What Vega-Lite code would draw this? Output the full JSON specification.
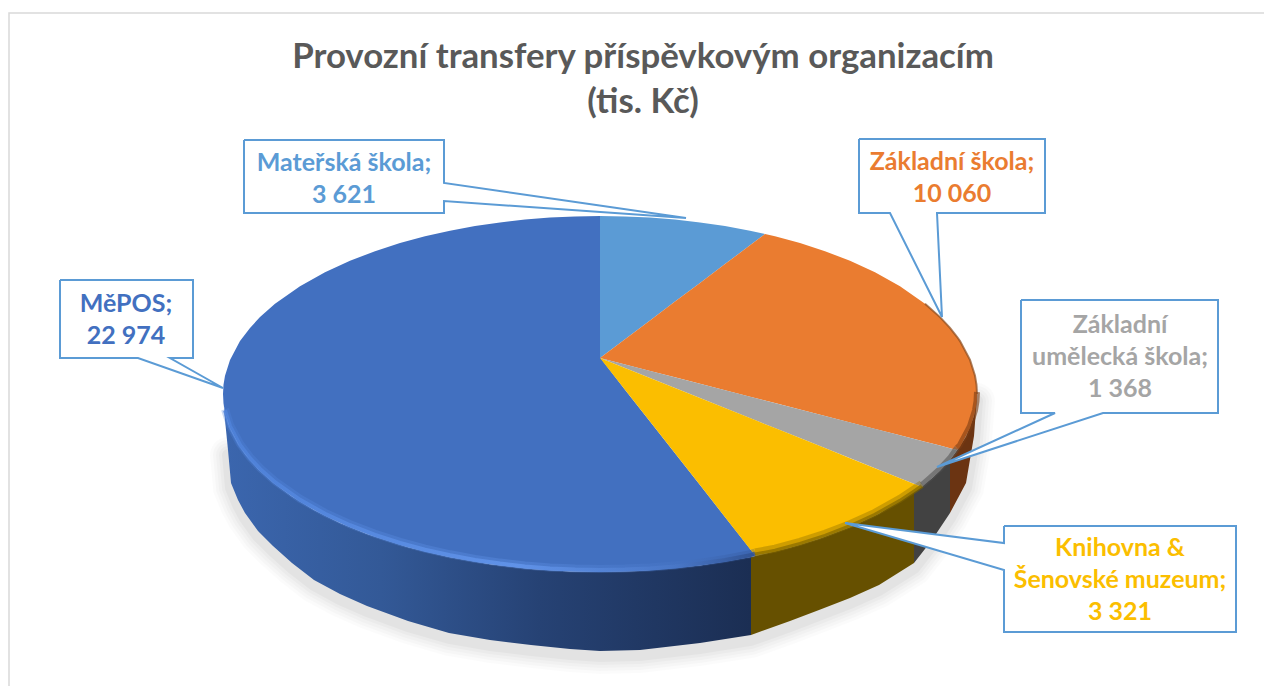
{"$schema":"https://vega.github.io/schema/vega-lite/v6.json","width":1264,"height":686,"padding":0,"autosize":"none","background":"white","config":{"view":{"stroke":null}},
"title":{"text":["Provozní transfery příspěvkovým organizacím","(tis. Kč)"],"font":"Lato","fontWeight":"bold","fontSize":34.8,"color":"#595959","lineHeight":45,"anchor":"middle","frame":"group","dx":11,"dy":121,"offset":0},
"datasets":{
"top":[
{"slice":"MěPOS","x":223,"y":394,"y2":394},{"slice":"MěPOS","x":223.5,"y":384.8,"y2":403.2},{"slice":"MěPOS","x":225,"y":375.7,"y2":412.3},{"slice":"MěPOS","x":230,"y":359.9,"y2":428.1},{"slice":"MěPOS","x":240,"y":341.1,"y2":446.9},{"slice":"MěPOS","x":250,"y":327.9,"y2":460.1},{"slice":"MěPOS","x":260,"y":317.1,"y2":470.9},{"slice":"MěPOS","x":275,"y":303.8,"y2":484.2},{"slice":"MěPOS","x":300,"y":286.2,"y2":501.8},{"slice":"MěPOS","x":325,"y":272.2,"y2":515.8},{"slice":"MěPOS","x":350,"y":260.8,"y2":527.2},{"slice":"MěPOS","x":375,"y":251.2,"y2":536.8},{"slice":"MěPOS","x":400,"y":243.1,"y2":544.9},{"slice":"MěPOS","x":425,"y":236.3,"y2":551.7},{"slice":"MěPOS","x":450,"y":230.7,"y2":557.3},{"slice":"MěPOS","x":475,"y":226.1,"y2":561.9},{"slice":"MěPOS","x":500,"y":222.4,"y2":565.6},{"slice":"MěPOS","x":525,"y":219.6,"y2":568.4},{"slice":"MěPOS","x":550,"y":217.6,"y2":570.4},{"slice":"MěPOS","x":575,"y":216.4,"y2":571.6},{"slice":"MěPOS","x":600,"y":216,"y2":572},{"slice":"MěPOS","x":600.5,"y":358,"y2":572},{"slice":"MěPOS","x":625,"y":389.8,"y2":571.6},{"slice":"MěPOS","x":650,"y":421.6,"y2":570.4},{"slice":"MěPOS","x":675,"y":453.3,"y2":568.4},{"slice":"MěPOS","x":700,"y":485.1,"y2":565.6},{"slice":"MěPOS","x":725,"y":516.9,"y2":561.9},{"slice":"MěPOS","x":750,"y":548.7,"y2":557.3},{"slice":"MěPOS","x":755,"y":555.5,"y2":555.5},
{"slice":"Mateřská škola","x":600,"y":216,"y2":358},{"slice":"Mateřská škola","x":625,"y":216.4,"y2":339.2},{"slice":"Mateřská škola","x":650,"y":217.6,"y2":320.4},{"slice":"Mateřská škola","x":675,"y":219.6,"y2":301.6},{"slice":"Mateřská škola","x":700,"y":222.4,"y2":282.9},{"slice":"Mateřská škola","x":725,"y":226.1,"y2":264.1},{"slice":"Mateřská škola","x":750,"y":230.7,"y2":245.3},{"slice":"Mateřská škola","x":765,"y":234,"y2":234},
{"slice":"Základní škola","x":600,"y":358,"y2":358},{"slice":"Základní škola","x":625,"y":339.2,"y2":364.4},{"slice":"Základní škola","x":650,"y":320.4,"y2":370.9},{"slice":"Základní škola","x":675,"y":301.6,"y2":377.3},{"slice":"Základní škola","x":700,"y":282.9,"y2":383.8},{"slice":"Základní škola","x":725,"y":264.1,"y2":390.2},{"slice":"Základní škola","x":750,"y":245.3,"y2":396.7},{"slice":"Základní škola","x":765,"y":233.9,"y2":400.5},{"slice":"Základní škola","x":775,"y":236.3,"y2":403.1},{"slice":"Základní škola","x":800,"y":243.1,"y2":409.5},{"slice":"Základní škola","x":825,"y":251.2,"y2":416},{"slice":"Základní škola","x":850,"y":260.8,"y2":422.4},{"slice":"Základní škola","x":875,"y":272.2,"y2":428.9},{"slice":"Základní škola","x":900,"y":286.2,"y2":435.3},{"slice":"Základní škola","x":925,"y":303.8,"y2":441.8},{"slice":"Základní škola","x":940,"y":317.1,"y2":445.6},{"slice":"Základní škola","x":950,"y":327.9,"y2":448.2},{"slice":"Základní škola","x":957,"y":336.8,"y2":450},{"slice":"Základní škola","x":960,"y":341.1,"y2":447},{"slice":"Základní škola","x":970,"y":359.9,"y2":428.1},{"slice":"Základní škola","x":975,"y":375.7,"y2":412.3},{"slice":"Základní škola","x":976.5,"y":384.8,"y2":403.2},{"slice":"Základní škola","x":977,"y":394,"y2":394},
{"slice":"Základní umělecká škola","x":600,"y":358,"y2":358},{"slice":"Základní umělecká škola","x":700,"y":383.8,"y2":398.1},{"slice":"Základní umělecká škola","x":800,"y":409.5,"y2":438.1},{"slice":"Základní umělecká škola","x":900,"y":435.3,"y2":478.2},{"slice":"Základní umělecká škola","x":922,"y":441,"y2":487},{"slice":"Základní umělecká škola","x":930,"y":443.1,"y2":480},{"slice":"Základní umělecká škola","x":940,"y":445.6,"y2":470.9},{"slice":"Základní umělecká škola","x":950,"y":448.2,"y2":460.1},{"slice":"Základní umělecká škola","x":957,"y":450,"y2":450},
{"slice":"Knihovna & Šenovské muzeum","x":600,"y":358,"y2":358},{"slice":"Knihovna & Šenovské muzeum","x":650,"y":378,"y2":421.6},{"slice":"Knihovna & Šenovské muzeum","x":700,"y":398.1,"y2":485.1},{"slice":"Knihovna & Šenovské muzeum","x":755,"y":420.1,"y2":555.5},{"slice":"Knihovna & Šenovské muzeum","x":775,"y":428.1,"y2":551.7},{"slice":"Knihovna & Šenovské muzeum","x":800,"y":438.1,"y2":544.9},{"slice":"Knihovna & Šenovské muzeum","x":825,"y":448.1,"y2":536.8},{"slice":"Knihovna & Šenovské muzeum","x":850,"y":458.2,"y2":527.2},{"slice":"Knihovna & Šenovské muzeum","x":875,"y":468.2,"y2":515.8},{"slice":"Knihovna & Šenovské muzeum","x":900,"y":478.2,"y2":501.8},{"slice":"Knihovna & Šenovské muzeum","x":915,"y":484.2,"y2":491.8},{"slice":"Knihovna & Šenovské muzeum","x":922,"y":487,"y2":487}
],
"wall":[
{"slice":"MěPOS","x":223,"y":394,"y2":394},{"slice":"MěPOS","x":224,"y":407,"y2":408},{"slice":"MěPOS","x":225,"y":412,"y2":420},{"slice":"MěPOS","x":228,"y":423,"y2":450},{"slice":"MěPOS","x":231,"y":430.5,"y2":483},{"slice":"MěPOS","x":238,"y":443.7,"y2":500},{"slice":"MěPOS","x":245,"y":453.9,"y2":513},{"slice":"MěPOS","x":258,"y":468.9,"y2":531},{"slice":"MěPOS","x":273,"y":482.6,"y2":546},{"slice":"MěPOS","x":292,"y":496.6,"y2":563},{"slice":"MěPOS","x":314,"y":510,"y2":580},{"slice":"MěPOS","x":340,"y":522.9,"y2":594},{"slice":"MěPOS","x":367,"y":533.9,"y2":606},{"slice":"MěPOS","x":408,"y":547.2,"y2":621},{"slice":"MěPOS","x":449,"y":557.1,"y2":633},{"slice":"MěPOS","x":490,"y":564.3,"y2":640},{"slice":"MěPOS","x":531,"y":569,"y2":645},{"slice":"MěPOS","x":570,"y":571.4,"y2":649},{"slice":"MěPOS","x":600,"y":572,"y2":651},{"slice":"MěPOS","x":640,"y":571,"y2":650},{"slice":"MěPOS","x":700,"y":565.6,"y2":643},{"slice":"MěPOS","x":751,"y":557,"y2":635},
{"slice":"Knihovna & Šenovské muzeum","x":751,"y":557,"y2":635},{"slice":"Knihovna & Šenovské muzeum","x":790,"y":547.7,"y2":621},{"slice":"Knihovna & Šenovské muzeum","x":819,"y":538.9,"y2":610},{"slice":"Knihovna & Šenovské muzeum","x":850,"y":527.2,"y2":598},{"slice":"Knihovna & Šenovské muzeum","x":879,"y":513.7,"y2":585},{"slice":"Knihovna & Šenovské muzeum","x":914,"y":491,"y2":563},
{"slice":"Základní umělecká škola","x":914,"y":491,"y2":563},{"slice":"Základní umělecká škola","x":932,"y":478.3,"y2":540},{"slice":"Základní umělecká škola","x":950,"y":460,"y2":513},
{"slice":"Základní škola","x":950,"y":460,"y2":513},{"slice":"Základní škola","x":958,"y":449,"y2":498},{"slice":"Základní škola","x":966,"y":436.7,"y2":483},{"slice":"Základní škola","x":974,"y":416,"y2":436},{"slice":"Základní škola","x":977,"y":394,"y2":396}
],
"callouts":[
{"slice":"Mateřská škola","i":0,"x":244,"y":140},{"slice":"Mateřská škola","i":1,"x":444,"y":140},{"slice":"Mateřská škola","i":2,"x":444,"y":183},{"slice":"Mateřská škola","i":3,"x":686,"y":218},{"slice":"Mateřská škola","i":4,"x":444,"y":201},{"slice":"Mateřská škola","i":5,"x":444,"y":213},{"slice":"Mateřská škola","i":6,"x":244,"y":213},{"slice":"Mateřská škola","i":7,"x":244,"y":140},
{"slice":"MěPOS","i":0,"x":60,"y":280},{"slice":"MěPOS","i":1,"x":193,"y":280},{"slice":"MěPOS","i":2,"x":193,"y":358},{"slice":"MěPOS","i":3,"x":170,"y":358},{"slice":"MěPOS","i":4,"x":223,"y":388},{"slice":"MěPOS","i":5,"x":138,"y":358},{"slice":"MěPOS","i":6,"x":60,"y":358},{"slice":"MěPOS","i":7,"x":60,"y":280},
{"slice":"Základní škola","i":0,"x":859,"y":139},{"slice":"Základní škola","i":1,"x":1045,"y":139},{"slice":"Základní škola","i":2,"x":1045,"y":213},{"slice":"Základní škola","i":3,"x":937,"y":213},{"slice":"Základní škola","i":4,"x":942,"y":317},{"slice":"Základní škola","i":5,"x":890,"y":213},{"slice":"Základní škola","i":6,"x":859,"y":213},{"slice":"Základní škola","i":7,"x":859,"y":139},
{"slice":"Základní umělecká škola","i":0,"x":1021,"y":300},{"slice":"Základní umělecká škola","i":1,"x":1218,"y":300},{"slice":"Základní umělecká škola","i":2,"x":1218,"y":413},{"slice":"Základní umělecká škola","i":3,"x":1103,"y":413},{"slice":"Základní umělecká škola","i":4,"x":937,"y":467},{"slice":"Základní umělecká škola","i":5,"x":1055,"y":413},{"slice":"Základní umělecká škola","i":6,"x":1021,"y":413},{"slice":"Základní umělecká škola","i":7,"x":1021,"y":300},
{"slice":"Knihovna & Šenovské muzeum","i":0,"x":1004,"y":526},{"slice":"Knihovna & Šenovské muzeum","i":1,"x":1236,"y":526},{"slice":"Knihovna & Šenovské muzeum","i":2,"x":1236,"y":632},{"slice":"Knihovna & Šenovské muzeum","i":3,"x":1004,"y":632},{"slice":"Knihovna & Šenovské muzeum","i":4,"x":1004,"y":570},{"slice":"Knihovna & Šenovské muzeum","i":5,"x":845,"y":523},{"slice":"Knihovna & Šenovské muzeum","i":6,"x":1004,"y":543},{"slice":"Knihovna & Šenovské muzeum","i":7,"x":1004,"y":526}
],
"labels":[
{"slice":"Mateřská škola","value":3621,"label":"Mateřská škola;\n3 621","x":344,"y":163},
{"slice":"Základní škola","value":10060,"label":"Základní škola;\n10 060","x":952,"y":162},
{"slice":"Základní umělecká škola","value":1368,"label":"Základní\numělecká škola;\n1 368","x":1120,"y":325},
{"slice":"Knihovna & Šenovské muzeum","value":3321,"label":"Knihovna &\nŠenovské muzeum;\n3 321","x":1120,"y":548},
{"slice":"MěPOS","value":22974,"label":"MěPOS;\n22 974","x":126,"y":304}
],
"frame":[{"i":0,"x":9,"y":690},{"i":1,"x":9,"y":13},{"i":2,"x":1270,"y":13}]
},
"encoding":{
"x":{"field":"x","type":"quantitative","axis":null,"scale":{"domain":[0,1264],"nice":false,"zero":false}},
"y":{"field":"y","type":"quantitative","axis":null,"stack":null,"scale":{"domain":[686,0],"nice":false,"zero":false}}
},
"layer":[
{"data":{"name":"frame"},"mark":{"type":"line","stroke":"#D9D9D9","strokeWidth":1.5,"clip":true},"encoding":{"order":{"field":"i"}}},
{"data":{"name":"wall"},"transform":[{"filter":"datum.x>=228"}],"mark":{"type":"line","stroke":"#000000","strokeOpacity":0.015,"strokeWidth":36,"yOffset":5,"strokeCap":"round"},"encoding":{"y":{"field":"y2","type":"quantitative"}}},
{"data":{"name":"wall"},"transform":[{"filter":"datum.x>=228"}],"mark":{"type":"line","stroke":"#000000","strokeOpacity":0.02,"strokeWidth":30,"yOffset":5,"strokeCap":"round"},"encoding":{"y":{"field":"y2","type":"quantitative"}}},
{"data":{"name":"wall"},"transform":[{"filter":"datum.x>=228"}],"mark":{"type":"line","stroke":"#000000","strokeOpacity":0.02,"strokeWidth":24,"yOffset":5,"strokeCap":"round"},"encoding":{"y":{"field":"y2","type":"quantitative"}}},
{"data":{"name":"wall"},"transform":[{"filter":"datum.x>=228"}],"mark":{"type":"line","stroke":"#000000","strokeOpacity":0.025,"strokeWidth":18,"yOffset":5,"strokeCap":"round"},"encoding":{"y":{"field":"y2","type":"quantitative"}}},
{"data":{"name":"wall"},"transform":[{"filter":"datum.x>=228"}],"mark":{"type":"line","stroke":"#000000","strokeOpacity":0.03,"strokeWidth":12,"yOffset":5,"strokeCap":"round"},"encoding":{"y":{"field":"y2","type":"quantitative"}}},
{"data":{"name":"wall"},"transform":[{"filter":"datum.slice==='MěPOS'"}],"mark":{"type":"area","color":{"gradient":"linear","x1":0,"x2":1,"y1":0,"y2":0,"stops":[{"offset":0,"color":"#3B66AE"},{"offset":0.3,"color":"#335997"},{"offset":0.6,"color":"#264274"},{"offset":1,"color":"#1B2E53"}]}},"encoding":{"y2":{"field":"y2"}}},
{"data":{"name":"wall"},"transform":[{"filter":"datum.slice==='Knihovna & Šenovské muzeum'"}],"mark":{"type":"area","color":"#665000"},"encoding":{"y2":{"field":"y2"}}},
{"data":{"name":"wall"},"transform":[{"filter":"datum.slice==='Základní umělecká škola'"}],"mark":{"type":"area","color":"#424242"},"encoding":{"y2":{"field":"y2"}}},
{"data":{"name":"wall"},"transform":[{"filter":"datum.slice==='Základní škola'"}],"mark":{"type":"area","color":"#6B3412"},"encoding":{"y2":{"field":"y2"}}},
{"data":{"name":"top"},"mark":{"type":"area"},"encoding":{"y2":{"field":"y2"},"color":{"field":"slice","type":"nominal","legend":null,"scale":{"domain":["MěPOS","Mateřská škola","Základní škola","Základní umělecká škola","Knihovna & Šenovské muzeum"],"range":["#4270C0","#5B9BD5","#EA7C30","#A5A5A5","#FBBE00"]}}}},
{"data":{"name":"top"},"transform":[{"filter":"datum.slice==='MěPOS' && datum.x>=225"}],"mark":{"type":"line","strokeWidth":8,"strokeOpacity":0.3,"yOffset":-3,"stroke":{"gradient":"linear","x1":0,"x2":1,"y1":0,"y2":0,"stops":[{"offset":0,"color":"#5084DC"},{"offset":0.55,"color":"#6699F0"},{"offset":0.85,"color":"#4A78C8"},{"offset":1,"color":"#2E4E8C"}]}},"encoding":{"y":{"field":"y2","type":"quantitative"}}},
{"data":{"name":"top"},"transform":[{"filter":"datum.slice==='MěPOS' && datum.x>=225"}],"mark":{"type":"line","strokeWidth":4,"strokeOpacity":0.75,"yOffset":-2,"stroke":{"gradient":"linear","x1":0,"x2":1,"y1":0,"y2":0,"stops":[{"offset":0,"color":"#5084DC"},{"offset":0.55,"color":"#6699F0"},{"offset":0.85,"color":"#4A78C8"},{"offset":1,"color":"#2E4E8C"}]}},"encoding":{"y":{"field":"y2","type":"quantitative"}}},
{"data":{"name":"top"},"transform":[{"filter":"datum.slice==='Knihovna & Šenovské muzeum' && datum.x>=755"}],"mark":{"type":"line","stroke":"#7A6000","strokeWidth":8,"strokeOpacity":0.35,"yOffset":-3},"encoding":{"y":{"field":"y2","type":"quantitative"}}},
{"data":{"name":"top"},"transform":[{"filter":"datum.slice==='Knihovna & Šenovské muzeum' && datum.x>=755"}],"mark":{"type":"line","stroke":"#7A6000","strokeWidth":4,"strokeOpacity":0.6,"yOffset":-1},"encoding":{"y":{"field":"y2","type":"quantitative"}}},
{"data":{"name":"top"},"transform":[{"filter":"datum.slice==='Základní umělecká škola' && datum.x>=922"}],"mark":{"type":"line","stroke":"#505050","strokeWidth":6,"strokeOpacity":0.55,"yOffset":-2},"encoding":{"y":{"field":"y2","type":"quantitative"}}},
{"data":{"name":"top"},"transform":[{"filter":"datum.slice==='Základní škola' && datum.x>=957"}],"mark":{"type":"line","stroke":"#7A3C12","strokeWidth":6,"strokeOpacity":0.6,"yOffset":-2},"encoding":{"y":{"field":"y2","type":"quantitative"}}},
{"data":{"name":"top"},"transform":[{"filter":"datum.slice==='Základní škola' && datum.x>=925"}],"mark":{"type":"line","stroke":"#8A4A1C","strokeWidth":2,"strokeOpacity":0.7}},
{"data":{"name":"callouts"},"mark":{"type":"line","fill":"#FFFFFF","stroke":"#5B9BD5","strokeWidth":2},"encoding":{"order":{"field":"i"},"detail":{"field":"slice"}}},
{"data":{"name":"labels"},"mark":{"type":"text","font":"Lato","fontWeight":"bold","fontSize":25,"lineBreak":"\n","lineHeight":32,"align":"center","baseline":"middle"},"encoding":{"text":{"field":"label"},"color":{"field":"slice","type":"nominal","legend":null}}}
]}
